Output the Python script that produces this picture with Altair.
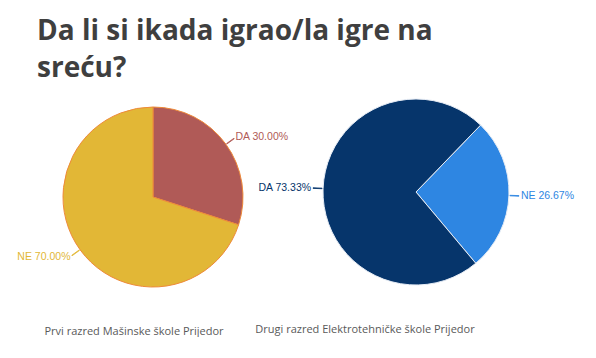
import altair as alt
import pandas as pd

title_lines = ["Da li si ikada igrao/la igre na", "sreću?"]

left_cats = ["DA", "NE"]
left_vals = [30.00, 70.00]
left_colors = ["#B05A57", "#E2B736"]
left_sub = "Prvi razred Mašinske škole Prijedor"

right_cats = ["NE", "DA"]
right_vals = [26.67, 73.33]
right_colors = ["#2E86E2", "#06356B"]
right_sub = "Drugi razred Elektrotehničke škole Prijedor"


def panel(cats, vals, colors, start, R, stroke, w, h, sub, sub_dx, sub_off):
    df = pd.DataFrame({
        "cat": cats,
        "val": vals,
        "ord": list(range(len(cats))),
        "label": [f"{c} {v:.2f}%" for c, v in zip(cats, vals)],
    })
    cscale = alt.Scale(domain=cats, range=colors)
    base = alt.Chart(df).transform_joinaggregate(
        total="sum(val)"
    ).transform_window(
        cum="sum(val)", sort=[alt.SortField("ord")]
    ).transform_calculate(
        t0=f"{start} + (datum.cum - datum.val) / datum.total * 2 * PI",
        t1=f"{start} + datum.cum / datum.total * 2 * PI",
    ).transform_calculate(
        tm="(datum.t0 + datum.t1) / 2",
    ).transform_calculate(
        tl="datum.tm + 0.006",
        side="sin(datum.tm) > 0 ? 'r' : 'l'",
    )
    pie = base.mark_arc(radius=R, stroke=stroke, strokeWidth=1).encode(
        theta=alt.Theta("t0:Q", scale=None),
        theta2="t1:Q",
        color=alt.Color("cat:N", scale=cscale, legend=None),
    )
    lead = base.mark_arc(radius=R + 1, radius2=R + 10, strokeWidth=0.8).encode(
        theta=alt.Theta("tm:Q", scale=None),
        theta2="tl:Q",
        color=alt.Color("cat:N", scale=cscale, legend=None),
        stroke=alt.Stroke("cat:N", scale=cscale, legend=None),
    )
    txt_r = base.transform_filter("datum.side == 'r'").mark_text(
        radius=R + 12, align="left", baseline="middle",
        font="Liberation Sans", fontSize=10.5,
    ).encode(
        theta=alt.Theta("tm:Q", scale=None),
        text="label:N",
        color=alt.Color("cat:N", scale=cscale, legend=None),
    )
    txt_l = base.transform_filter("datum.side == 'l'").mark_text(
        radius=R + 12, align="right", baseline="middle",
        font="Liberation Sans", fontSize=10.5,
    ).encode(
        theta=alt.Theta("tm:Q", scale=None),
        text="label:N",
        color=alt.Color("cat:N", scale=cscale, legend=None),
    )
    return alt.layer(pie, lead, txt_r, txt_l).properties(
        width=w, height=h,
        title=alt.TitleParams(
            text=sub, orient="bottom", anchor="middle", dx=sub_dx,
            offset=sub_off, font="Open Sans", fontSize=11,
            fontWeight="normal", color="#595959",
        ),
    ).resolve_scale(color="independent", stroke="independent")


left = panel(left_cats, left_vals, left_colors, 0, 90, "#EE8A3A",
             290, 220, left_sub, -19, 19)
right = panel(right_cats, right_vals, right_colors, 0.768, 93, "#E6ECF5",
              236, 210, right_sub, -51, 27)

chart = alt.hconcat(left, right, spacing=0, bounds="flush").properties(
    title=alt.TitleParams(
        text=title_lines[0], subtitle=title_lines[1],
        anchor="start", dx=29, fontSize=28,
        font="Open Sans", fontWeight="bold", color="#3F3F3F",
        subtitleFont="Open Sans", subtitleFontSize=28,
        subtitleFontWeight="bold", subtitleColor="#3F3F3F",
        subtitlePadding=9, offset=4,
    ),
    padding={"top": 10, "left": 0, "right": 0, "bottom": 0},
    background="white",
).resolve_scale(color="independent", stroke="independent").configure_view(stroke=None)

chart.save("out.html", embed_options={"renderer": "svg", "actions": False})
